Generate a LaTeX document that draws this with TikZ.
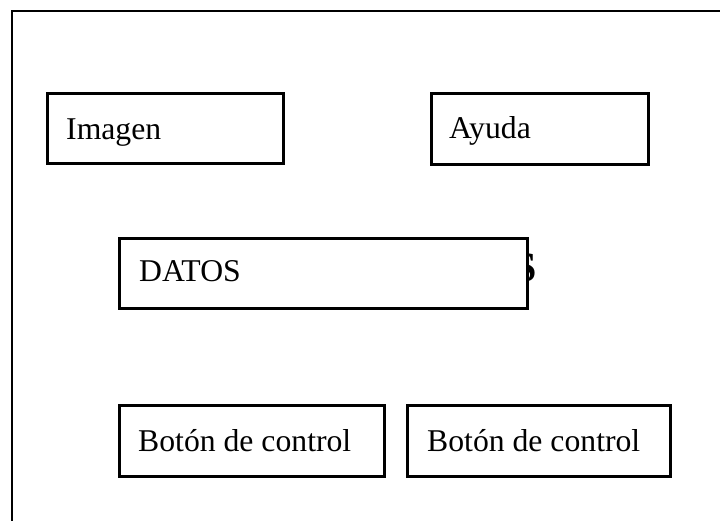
\documentclass[tikz,border=0pt]{standalone}
\usepackage{fontspec}
\setmainfont{Liberation Serif}
\begin{document}
\begin{tikzpicture}[x=1pt,y=-1pt,
  box/.style={draw=black, line width=2.9pt, fill=white, rectangle, inner sep=0pt, anchor=north west},
  lbl/.style={anchor=base west, inner sep=0pt, font=\fontsize{31.7}{38}\selectfont},
  frameline/.style={draw=black, line width=2.9pt}]
\useasboundingbox (0,0) rectangle (720,521);
\fill[white] (0,0) rectangle (720,521);
% outer frame (top and left only)
\coordinate (fbl) at (12,523);
\coordinate (ftl) at (12,11);
\coordinate (ftr) at (722,11);
\draw[frameline, line cap=rect] (fbl) -- (ftl) -- (ftr);
% partially hidden big S behind the DATOS box
\node[anchor=base east, inner sep=0pt, font=\fontsize{42}{48}\selectfont\bfseries] (bigs) at (537,282) {S};
% boxes
\node[box, minimum width=236pt, minimum height=70pt] (imagen) at (46,92) {};
\node[lbl] (timagen) at (66,140) {Imagen};
\node[box, minimum width=217pt, minimum height=71pt] (ayuda) at (430,92) {};
\node[lbl] (tayuda) at (449,139) {Ayuda};
\node[box, minimum width=408pt, minimum height=70pt] (datos) at (118,237) {};
\node[lbl] (tdatos) at (139,282) {DATOS};
\node[box, minimum width=265pt, minimum height=71pt] (boton1) at (118,404) {};
\node[lbl] (tboton1) at (138,451) {Botón de control};
\node[box, minimum width=263pt, minimum height=71pt] (boton2) at (406,404) {};
\node[lbl] (tboton2) at (427,451) {Botón de control};
\end{tikzpicture}
\end{document}
